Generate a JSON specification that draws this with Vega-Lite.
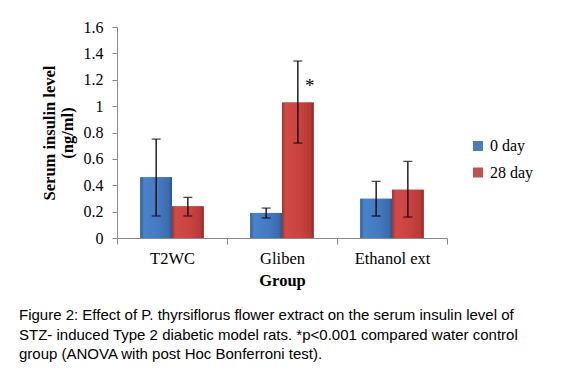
{
  "$schema": "https://vega.github.io/schema/vega-lite/v6.json",
  "width": 330,
  "height": 211,
  "autosize": {"type": "none"},
  "padding": {"left": 117, "top": 27, "right": 118, "bottom": 142},
  "background": "white",
  "config": {
    "view": {"stroke": null},
    "font": "Liberation Serif",
    "numberFormat": ".1~f",
    "axisY": {
      "labelOverlap": false,
      "grid": false,
      "labelFont": "Liberation Serif",
      "labelFontSize": 16,
      "labelColor": "black",
      "labelPadding": 9,
      "tickSize": 5,
      "domainColor": "#8a8a8a",
      "tickColor": "#8a8a8a",
      "titleFont": "Liberation Serif",
      "titleFontSize": 16.5,
      "titleFontWeight": "bold",
      "titleColor": "black",
      "titleLineHeight": 17.5,
      "titlePadding": 8
    }
  },
  "title": {
    "text": [
      "Figure 2: Effect of P. thyrsiflorus flower extract on the serum insulin level of",
      "STZ- induced Type 2 diabetic model rats. *p<0.001 compared water control",
      "group (ANOVA with post Hoc Bonferroni test)."
    ],
    "orient": "bottom",
    "anchor": "start",
    "frame": "group",
    "dx": -98,
    "offset": 19,
    "font": "Liberation Sans",
    "fontSize": 15,
    "fontWeight": "normal",
    "lineHeight": 19.5,
    "color": "black"
  },
  "data": {
    "values": [
      {"group": "T2WC", "day": "0 day", "value": 0.46, "lo": 0.167, "hi": 0.75},
      {"group": "T2WC", "day": "28 day", "value": 0.24, "lo": 0.167, "hi": 0.308},
      {"group": "Gliben", "day": "0 day", "value": 0.19, "lo": 0.152, "hi": 0.227},
      {"group": "Gliben", "day": "28 day", "value": 1.028, "lo": 0.72, "hi": 1.342},
      {"group": "Ethanol ext", "day": "0 day", "value": 0.298, "lo": 0.167, "hi": 0.429},
      {"group": "Ethanol ext", "day": "28 day", "value": 0.366, "lo": 0.159, "hi": 0.581}
    ]
  },
  "encoding": {
    "x": {
      "field": "group",
      "type": "nominal",
      "sort": ["T2WC", "Gliben", "Ethanol ext"],
      "scale": {"paddingInner": 0, "paddingOuter": 0},
      "axis": {
        "title": "Group",
        "titleFont": "Liberation Serif",
        "titleFontSize": 16.5,
        "titleFontWeight": "bold",
        "titleColor": "black",
        "titlePadding": 6,
        "labelFont": "Liberation Serif",
        "labelFontSize": 16.5,
        "labelColor": "black",
        "labelAngle": 0,
        "labelPadding": 6,
        "tickBand": "extent",
        "tickSize": 6,
        "domainColor": "#8a8a8a",
        "tickColor": "#8a8a8a"
      }
    },
    "xOffset": {
      "field": "day",
      "type": "nominal",
      "sort": ["0 day", "28 day"],
      "scale": {"paddingInner": 0, "paddingOuter": 0.735}
    }
  },
  "layer": [
    {
      "mark": {"type": "bar"},
      "encoding": {
        "y": {
          "field": "value",
          "type": "quantitative",
          "scale": {"domain": [0, 1.6], "nice": false},
          "axis": {
            "title": ["Serum insulin level", "(ng/ml)"],
            "values": [0, 0.2, 0.4, 0.6, 0.8, 1, 1.2, 1.4, 1.6],
            "tickCount": 12,
            "format": ".1~f"
          }
        },
        "color": {
          "field": "day",
          "type": "nominal",
          "sort": ["0 day", "28 day"],
          "scale": {"domain": ["0 day", "28 day"], "range": ["#4A7EBB", "#C0504D"]},
          "legend": {
            "title": null,
            "orient": "none",
            "legendX": 353,
            "legendY": 111,
            "symbolType": "square",
            "symbolSize": 100,
            "symbolStrokeWidth": 0,
            "labelFont": "Liberation Serif",
            "labelFontSize": 16,
            "labelColor": "black",
            "labelOffset": 4,
            "rowPadding": 10.5
          }
        }
      }
    },
    {
      "transform": [{"filter": "datum.day === '0 day'"}],
      "mark": {
        "type": "bar",
        "color": {
          "gradient": "linear",
          "x1": 0, "x2": 1, "y1": 0, "y2": 0,
          "stops": [
            {"offset": 0, "color": "#2d5e9e"},
            {"offset": 0.12, "color": "#4a83cb"},
            {"offset": 0.6, "color": "#4379c0"},
            {"offset": 0.9, "color": "#3a6cae"},
            {"offset": 1, "color": "#2a5690"}
          ]
        }
      },
      "encoding": {"y": {"field": "value", "type": "quantitative"}}
    },
    {
      "transform": [{"filter": "datum.day === '28 day'"}],
      "mark": {
        "type": "bar",
        "color": {
          "gradient": "linear",
          "x1": 0, "x2": 1, "y1": 0, "y2": 0,
          "stops": [
            {"offset": 0, "color": "#9e3532"},
            {"offset": 0.12, "color": "#d24a46"},
            {"offset": 0.6, "color": "#c9423f"},
            {"offset": 0.9, "color": "#b53a37"},
            {"offset": 1, "color": "#8f2b29"}
          ]
        }
      },
      "encoding": {"y": {"field": "value", "type": "quantitative"}}
    },
    {
      "mark": {"type": "rule", "color": "black", "strokeWidth": 1.3},
      "encoding": {
        "y": {"field": "lo", "type": "quantitative"},
        "y2": {"field": "hi"}
      }
    },
    {
      "mark": {"type": "tick", "color": "black", "thickness": 1.3, "size": 9},
      "encoding": {"y": {"field": "lo", "type": "quantitative"}}
    },
    {
      "mark": {"type": "tick", "color": "black", "thickness": 1.3, "size": 9},
      "encoding": {"y": {"field": "hi", "type": "quantitative"}}
    },
    {
      "data": {"values": [{"group": "Gliben", "day": "28 day", "y": 1.19, "label": "*"}]},
      "mark": {"type": "text", "font": "Liberation Serif", "fontSize": 19, "dx": 12, "dy": 5, "color": "black"},
      "encoding": {
        "y": {"field": "y", "type": "quantitative"},
        "text": {"field": "label"}
      }
    }
  ]
}
